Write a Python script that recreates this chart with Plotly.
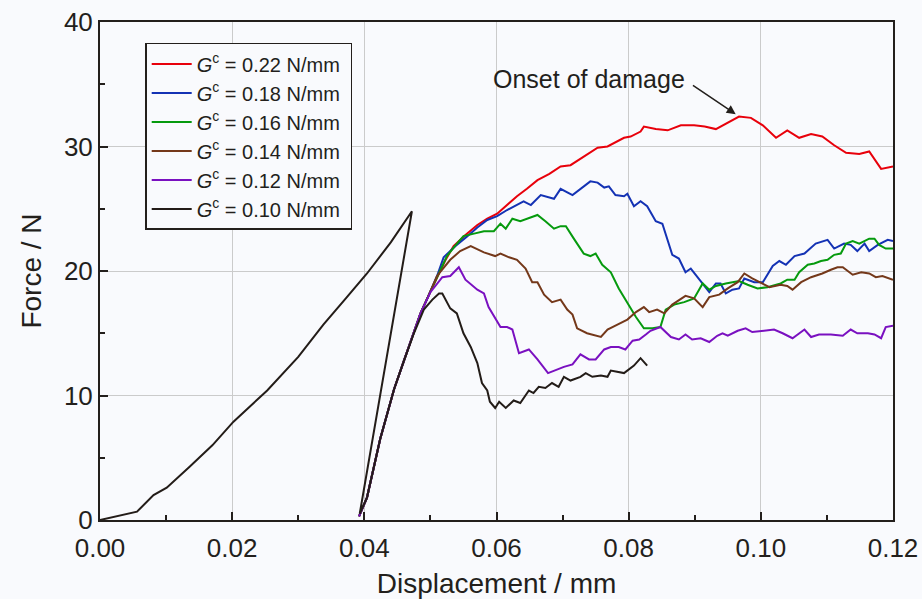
import plotly.graph_objects as go

# ---------------- data ----------------
common_x = [0.0392, 0.0404, 0.0424, 0.0445, 0.0460, 0.0475, 0.0485]
common_y = [0.3, 1.8, 6.5, 10.5, 12.8, 15.0, 16.6]

red_x = common_x + [0.0497, 0.0510, 0.0522, 0.0535, 0.0553, 0.0571, 0.0586, 0.0601, 0.0616, 0.0631,
                    0.0646, 0.0662, 0.0680, 0.0697, 0.0712, 0.0732, 0.0753, 0.0768, 0.0793, 0.0803,
                    0.0818, 0.0823, 0.0841, 0.0859, 0.0879, 0.0899, 0.0915, 0.0932, 0.0950, 0.0967,
                    0.0985, 0.1003, 0.1023, 0.1040, 0.1058, 0.1076, 0.1093, 0.1111, 0.1129, 0.1149,
                    0.1164, 0.1182, 0.1200]
red_y = common_y + [18.0, 19.5, 20.8, 22.0, 22.9, 23.7, 24.2, 24.6, 25.3, 26.0,
                    26.6, 27.3, 27.8, 28.4, 28.5, 29.2, 29.9, 30.0, 30.7, 30.8,
                    31.2, 31.6, 31.4, 31.3, 31.7, 31.7, 31.6, 31.4, 31.9, 32.4,
                    32.3, 31.7, 30.7, 31.3, 30.7, 31.0, 30.8, 30.1, 29.5, 29.4,
                    29.6, 28.2, 28.4]

blue_x = common_x + [0.0497, 0.0510, 0.0520, 0.0538, 0.0556, 0.0571, 0.0586, 0.0601, 0.0616, 0.0641,
                     0.0652, 0.0667, 0.0687, 0.0697, 0.0715, 0.0742, 0.0753, 0.0763, 0.0770, 0.0780,
                     0.0793, 0.0798, 0.0808, 0.0818, 0.0828, 0.0841, 0.0851, 0.0866, 0.0876, 0.0886,
                     0.0894, 0.0912, 0.0922, 0.0932, 0.0939, 0.0947, 0.0957, 0.0967, 0.0975, 0.0990,
                     0.1003, 0.1018, 0.1028, 0.1038, 0.1051, 0.1066, 0.1083, 0.1101, 0.1111, 0.1126,
                     0.1136, 0.1146, 0.1157, 0.1164, 0.1177, 0.1192, 0.1200]
blue_y = common_y + [18.0, 19.6, 21.1, 22.0, 22.8, 23.5, 24.1, 24.4, 24.9, 25.6,
                     25.3, 26.1, 25.8, 26.6, 26.1, 27.2, 27.1, 26.7, 26.8, 26.1,
                     26.0, 26.2, 25.2, 25.6, 25.2, 24.0, 23.8, 21.3, 21.0, 19.9,
                     20.2, 19.0, 18.3, 19.0, 19.0, 18.2, 18.5, 18.6, 19.4, 19.1,
                     19.1, 20.4, 20.8, 20.5, 21.2, 21.4, 22.2, 22.5, 21.8, 22.2,
                     22.1, 21.6, 22.2, 21.6, 22.1, 22.5, 22.4]

green_x = common_x + [0.0497, 0.0510, 0.0525, 0.0537, 0.0550, 0.0566, 0.0581, 0.0596, 0.0606, 0.0614,
                      0.0624, 0.0636, 0.0646, 0.0662, 0.0674, 0.0687, 0.0697, 0.0705, 0.0717, 0.0732,
                      0.0742, 0.0750, 0.0760, 0.0773, 0.0785, 0.0798, 0.0811, 0.0823, 0.0836, 0.0848,
                      0.0856, 0.0869, 0.0884, 0.0899, 0.0912, 0.0922, 0.0932, 0.0947, 0.0967, 0.0980,
                      0.0995, 0.1010, 0.1030, 0.1040, 0.1051, 0.1058, 0.1071, 0.1081, 0.1091, 0.1101,
                      0.1111, 0.1121, 0.1129, 0.1139, 0.1149, 0.1164, 0.1172, 0.1179, 0.1189, 0.1200]
green_y = common_y + [18.0, 19.5, 21.2, 22.0, 22.8, 23.0, 23.2, 23.2, 23.8, 23.4,
                      24.2, 24.0, 24.2, 24.5, 24.0, 23.4, 23.6, 23.6, 22.6, 21.4,
                      21.2, 21.4, 20.5, 19.9, 18.6, 17.4, 16.3, 15.4, 15.4, 15.5,
                      16.9, 17.3, 17.5, 17.8, 19.0, 18.5, 18.8, 19.0, 19.2, 18.9,
                      18.6, 18.7, 19.0, 19.3, 19.3, 19.9, 20.5, 20.6, 20.8, 20.9,
                      21.3, 21.4, 22.2, 22.4, 22.2, 22.6, 22.6, 22.1, 21.8, 21.8]

brown_x = common_x + [0.0497, 0.0510, 0.0530, 0.0545, 0.0561, 0.0581, 0.0598, 0.0606, 0.0619, 0.0631,
                      0.0644, 0.0654, 0.0662, 0.0672, 0.0684, 0.0697, 0.0707, 0.0715, 0.0722, 0.0737,
                      0.0758, 0.0768, 0.0783, 0.0798, 0.0811, 0.0823, 0.0831, 0.0843, 0.0854, 0.0866,
                      0.0886, 0.0899, 0.0912, 0.0922, 0.0937, 0.0950, 0.0965, 0.0975, 0.0987, 0.1003,
                      0.1013, 0.1030, 0.1040, 0.1048, 0.1061, 0.1076, 0.1093, 0.1106, 0.1116, 0.1124,
                      0.1139, 0.1152, 0.1164, 0.1174, 0.1184, 0.1200]
brown_y = common_y + [18.0, 19.6, 20.9, 21.6, 22.0, 21.5, 21.2, 21.4, 21.1, 20.9,
                      20.2, 19.1, 19.1, 18.1, 17.5, 17.7, 16.9, 16.5, 15.4, 15.0,
                      14.7, 15.3, 15.7, 16.1, 16.7, 17.1, 16.7, 16.9, 16.6, 17.3,
                      18.0, 17.8, 17.1, 17.9, 18.1, 18.6, 19.1, 19.8, 19.4, 19.0,
                      18.7, 18.9, 18.8, 18.5, 19.1, 19.5, 19.8, 20.1, 20.3, 20.3,
                      19.7, 19.9, 19.8, 19.5, 19.6, 19.3]

purple_x = common_x + [0.0500, 0.0518, 0.0530, 0.0543, 0.0553, 0.0571, 0.0581, 0.0588, 0.0606, 0.0616,
                       0.0624, 0.0634, 0.0649, 0.0662, 0.0678, 0.0702, 0.0715, 0.0727, 0.0740, 0.0750,
                       0.0763, 0.0773, 0.0785, 0.0795, 0.0806, 0.0816, 0.0826, 0.0833, 0.0848, 0.0864,
                       0.0876, 0.0886, 0.0896, 0.0909, 0.0922, 0.0934, 0.0942, 0.0950, 0.0965, 0.0977,
                       0.0987, 0.1003, 0.1020, 0.1033, 0.1048, 0.1066, 0.1076, 0.1088, 0.1106, 0.1124,
                       0.1136, 0.1146, 0.1162, 0.1172, 0.1182, 0.1189, 0.1200]
purple_y = common_y + [18.3, 19.5, 19.6, 20.3, 19.3, 18.5, 18.2, 17.1, 15.5, 15.5,
                       15.3, 13.4, 13.7, 12.9, 11.8, 12.3, 12.5, 13.3, 12.9, 12.9,
                       13.7, 13.9, 13.9, 13.7, 14.4, 14.5, 14.9, 15.2, 15.5, 14.7,
                       14.5, 14.9, 14.5, 14.6, 14.3, 14.8, 15.0, 14.8, 15.2, 15.4,
                       15.1, 15.2, 15.3, 15.0, 14.6, 15.3, 14.7, 14.9, 14.9, 14.8,
                       15.3, 15.0, 15.0, 14.9, 14.6, 15.5, 15.6]

black_x = [0.0, 0.0025, 0.0056, 0.0081, 0.0101, 0.0136, 0.0170, 0.0202, 0.0253, 0.0300, 0.0338,
           0.0372, 0.0404, 0.0440, 0.0472,
           0.0393, 0.0404, 0.0424, 0.0445, 0.0460, 0.0475, 0.0490, 0.0503, 0.0513, 0.0518,
           0.0530, 0.0540, 0.0550, 0.0561, 0.0571, 0.0578, 0.0586, 0.0590, 0.0598, 0.0604,
           0.0614, 0.0626, 0.0636, 0.0649, 0.0656, 0.0664, 0.0674, 0.0684, 0.0694, 0.0702,
           0.0712, 0.0727, 0.0735, 0.0745, 0.0758, 0.0768, 0.0773, 0.0793, 0.0808, 0.0818, 0.0828]
black_y = [0.0, 0.32, 0.67, 2.0, 2.6, 4.3, 6.0, 7.9, 10.4, 13.1, 15.7,
           17.8, 19.8, 22.3, 24.8,
           0.5, 1.8, 6.5, 10.5, 12.8, 15.0, 16.9, 17.7, 18.2, 18.2,
           17.0, 16.6, 15.0, 13.9, 12.6, 11.0, 10.4, 9.5, 9.0, 9.5,
           9.0, 9.6, 9.4, 10.4, 10.2, 10.7, 10.6, 11.0, 10.7, 11.5,
           11.2, 11.5, 11.8, 11.5, 11.6, 11.5, 12.0, 11.8, 12.4, 13.0, 12.4]

labels = ["0.22", "0.18", "0.16", "0.14", "0.12", "0.10"]
colors = ["#e8000b", "#1432b4", "#069a0e", "#74381a", "#7a10c0", "#231c18"]
series_x = [red_x, blue_x, green_x, brown_x, purple_x, black_x]
series_y = [red_y, blue_y, green_y, brown_y, purple_y, black_y]

x_ticks = [0.00, 0.02, 0.04, 0.06, 0.08, 0.10, 0.12]
y_ticks = [0, 10, 20, 30, 40]

FONT = "Arial, 'Liberation Sans', Helvetica, sans-serif"
INK = "#231f1c"
BG = "#f9fafd"

fig = go.Figure()
for xs, ys, lab, col in zip(series_x, series_y, labels, colors):
    fig.add_trace(go.Scatter(
        x=xs, y=ys, mode="lines",
        name=f"<i>G</i><sup>c</sup> = {lab} N/mm ",
        line=dict(color=col, width=2),
    ))

axis_common = dict(
    showline=True, linecolor=INK, linewidth=2, mirror=True,
    ticks="inside", ticklen=8, tickwidth=1.5, tickcolor=INK,
    showgrid=True, gridcolor="#cbcbcb", gridwidth=1,
    zeroline=False, automargin=False,
    tickfont=dict(family=FONT, size=26, color=INK),
)

fig.update_layout(
    width=922, height=599,
    margin=dict(l=100, r=29, t=22, b=79),
    paper_bgcolor=BG, plot_bgcolor=BG,
    font=dict(family=FONT, color=INK),
    showlegend=True,
    legend=dict(
        x=0.057, y=0.958, xanchor="left", yanchor="top",
        bgcolor=BG, bordercolor=INK, borderwidth=1.5,
        font=dict(family=FONT, size=20, color=INK),
        tracegroupgap=0, itemwidth=40,
    ),
    xaxis=dict(
        range=[0, 0.12], tickvals=x_ticks, tickformat=".2f",
        ticklabelstandoff=4,
        minor=dict(dtick=0.01, ticks="inside", ticklen=5, tickcolor=INK, showgrid=False),
        title=dict(text="Displacement / mm", font=dict(family=FONT, size=28, color=INK), standoff=18),
        **axis_common,
    ),
    yaxis=dict(
        range=[0, 40], tickvals=y_ticks,
        minor=dict(dtick=5, ticks="inside", ticklen=5, tickcolor=INK, showgrid=False),
        title=dict(text="Force / N", font=dict(family=FONT, size=28, color=INK), standoff=14),
        **axis_common,
    ),
)

# annotation text
fig.add_annotation(
    x=0.0740, y=35.4, xref="x", yref="y",
    text="Onset of damage", showarrow=False,
    font=dict(family=FONT, size=25, color=INK),
)
# annotation arrow (from end of text to the peak)
fig.add_annotation(
    x=0.0962, y=32.6, xref="x", yref="y",
    text="", showarrow=True,
    ax=0.0895, ay=35.0, axref="x", ayref="y",
    arrowhead=2, arrowsize=1.2, arrowwidth=1.5, arrowcolor=INK,
)

fig.write_html("out.html")
